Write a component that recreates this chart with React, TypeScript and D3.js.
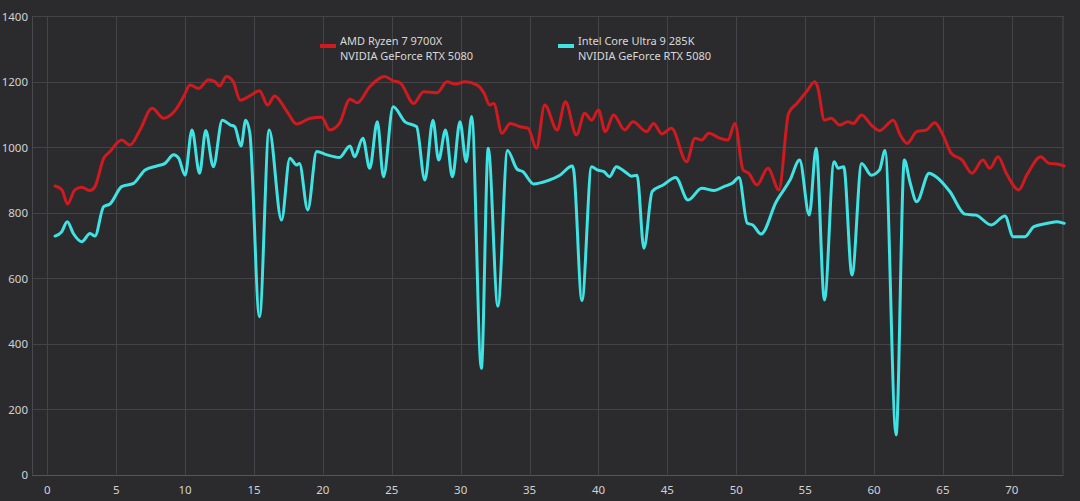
import React from 'react';
import * as d3 from 'd3';

// frame-rate samples over time (seconds)
const amdTime = [
  0.57, 1.07, 1.47, 2.0, 2.5, 3.1, 3.46, 4.09, 4.55, 5.4, 6.0, 6.73, 7.6, 8.44, 9.39, 9.9,
  10.36, 10.98, 11.7, 12.17, 12.5, 13.0, 13.5, 14.0, 14.7, 15.4, 15.99, 16.5, 17.4, 18.1, 19.1, 19.9,
  20.5, 21.2, 21.97, 22.5, 23.4, 24.5, 25.1, 25.6, 26.6, 27.3, 28.3, 29.0, 29.6, 30.3, 31.2, 31.7,
  32.1, 32.4, 33.0, 33.6, 34.3, 34.9, 35.5, 36.1, 37.0, 37.6, 38.4, 39.0, 39.5, 40.0, 40.5, 41.1,
  41.9, 42.5, 43.5, 44.0, 44.6, 45.3, 46.4, 47.0, 47.5, 48.0, 48.8, 49.4, 49.9, 50.5, 50.9, 51.5,
  52.3, 53.1, 53.8, 54.4, 55.1, 55.7, 55.9, 56.4, 56.9, 57.5, 58.1, 58.5, 59.1, 59.8, 60.4, 61.4,
  61.9, 62.4, 63.1, 63.8, 64.4, 65.0, 65.6, 66.4, 67.1, 67.9, 68.4, 69.0, 69.6, 70.5, 71.1, 72.1,
  72.7, 73.3, 73.8,
];
const amdFps = [
  881, 869, 826, 869, 877, 867, 879, 965, 986, 1021, 1006, 1052, 1118, 1088, 1118, 1154,
  1189, 1179, 1205, 1199, 1186, 1215, 1199, 1143, 1156, 1172, 1128, 1156, 1108, 1070, 1088, 1091,
  1052, 1072, 1146, 1135, 1184, 1215, 1202, 1196, 1133, 1169, 1166, 1199, 1192, 1199, 1189, 1164,
  1128, 1133, 1042, 1072, 1062, 1057, 996, 1128, 1052, 1138, 1037, 1103, 1082, 1113, 1047, 1098,
  1052, 1077, 1047, 1072, 1040, 1057, 955, 1027, 1021, 1042, 1027, 1021, 1072, 930, 920, 884,
  935, 869, 1103, 1133, 1169, 1199, 1184, 1082, 1088, 1067, 1077, 1072, 1098, 1067, 1050, 1082,
  1037, 1011, 1047, 1052, 1074, 1037, 981, 960, 920, 960, 935, 970, 920, 869, 915, 970,
  950, 948, 942,
];

const intelTime = [
  0.56, 1.04, 1.45, 1.89, 2.5, 3.1, 3.46, 4.09, 4.55, 5.4, 6.26, 7.1, 7.95, 8.54, 9.17, 9.53,
  10.0, 10.5, 11.05, 11.5, 12.05, 12.7, 13.3, 13.6, 14.06, 14.4, 14.7, 15.4, 16.1, 17.0, 17.6, 18.1,
  18.3, 18.9, 19.55, 20.3, 21.2, 21.97, 22.3, 22.9, 23.4, 23.95, 24.4, 25.1, 25.96, 26.8, 27.4, 27.99,
  28.4, 28.9, 29.4, 29.95, 30.4, 30.8, 31.5, 32.0, 32.7, 33.4, 34.1, 34.5, 35.3, 36.3, 37.2, 38.1,
  38.2, 38.8, 39.5, 39.9, 40.4, 40.8, 41.3, 41.9, 42.4, 42.8, 43.3, 43.9, 44.7, 45.6, 46.5, 47.5,
  48.4, 49.1, 49.7, 50.2, 50.8, 51.2, 51.8, 52.9, 53.9, 54.6, 55.3, 55.8, 56.4, 57.1, 57.4, 57.8,
  58.4, 59.1, 59.8, 60.4, 60.8, 61.6, 62.2, 62.6, 63.1, 64.0, 64.5, 65.5, 66.6, 67.4, 68.5, 69.5,
  70.1, 70.95, 71.6, 72.6, 73.3, 73.8,
];
const intelFps = [
  728, 741, 772, 736, 711, 736, 728, 818, 826, 879, 889, 930, 942, 950, 976, 966,
  914, 1052, 920, 1050, 940, 1082, 1067, 1062, 1003, 1082, 1042, 482, 1052, 777, 966, 945,
  950, 808, 986, 976, 968, 1003, 970, 1027, 935, 1077, 909, 1123, 1077, 1062, 899, 1082,
  960, 1052, 909, 1077, 955, 1093, 324, 996, 514, 989, 932, 925, 887, 897, 914, 942,
  930, 531, 940, 930, 925, 909, 940, 925, 911, 914, 691, 864, 884, 907, 838, 874,
  867, 879, 889, 907, 767, 762, 734, 833, 899, 960, 792, 996, 533, 955, 935, 940,
  609, 950, 914, 930, 989, 121, 960, 894, 833, 920, 909, 864, 795, 792, 762, 789,
  726, 726, 757, 767, 772, 767,
];

const xTicks = d3.range(0, 71, 5);
const yTicks = d3.range(0, 1401, 200);

const series = [
  { name: ['AMD Ryzen 7 9700X', 'NVIDIA GeForce RTX 5080'], color: '#d11a1f', time: amdTime, fps: amdFps },
  { name: ['Intel Core Ultra 9 285K', 'NVIDIA GeForce RTX 5080'], color: '#3fe3e3', time: intelTime, fps: intelFps },
];

const W = 1080;
const H = 501;
const font = '"Noto Sans", "Open Sans", sans-serif';

export default function App() {
  const x = d3.scaleLinear().domain([-1.11, 73.75]).range([32, 1063.5]);
  const y = d3.scaleLinear().domain([0, 1400]).range([474.5, 16]);

  const line = d3
    .line<[number, number]>()
    .x((d) => x(d[0]))
    .y((d) => y(d[1]))
    .curve(d3.curveMonotoneX);

  const [x0, x1] = x.range();

  return (
    <svg
      width={W}
      height={H}
      style={{ position: 'fixed', left: 0, top: 0, background: '#2b2b2e' }}
      fontFamily={font}
    >
      {/* grid */}
      {yTicks.map((t) => (
        <line key={'gy' + t} x1={x0} x2={x1} y1={Math.round(y(t)) + 0.5} y2={Math.round(y(t)) + 0.5}
          stroke={t === 0 ? '#55555a' : '#444448'} strokeWidth={1} />
      ))}
      {xTicks.map((t) => (
        <line key={'gx' + t} x1={Math.round(x(t)) + 0.5} x2={Math.round(x(t)) + 0.5} y1={y(1400)} y2={y(0)}
          stroke="#444448" strokeWidth={1} />
      ))}
      <line x1={x0 + 0.5} x2={x0 + 0.5} y1={y(1400)} y2={y(0)} stroke="#4a4a4e" />
      <line x1={x1 - 0.5} x2={x1 - 0.5} y1={y(1400)} y2={y(0)} stroke="#4a4a4e" />

      {/* tick labels */}
      {yTicks.map((t) => (
        <text key={'ly' + t} x={28} y={y(t)} textAnchor="end" dominantBaseline="central"
          fontSize={11.5} fill="#d2d2d2">{t}</text>
      ))}
      {xTicks.map((t) => (
        <text key={'lx' + t} x={x(t)} y={489} textAnchor="middle" dominantBaseline="central"
          fontSize={11.5} fill="#d2d2d2">{t}</text>
      ))}

      {/* lines */}
      {series.map((s) => (
        <path key={s.name[0]} d={line(s.time.map((t, i) => [t, s.fps[i]] as [number, number])) || ''}
          fill="none" stroke={s.color} strokeWidth={3} strokeLinejoin="round" strokeLinecap="round" />
      ))}

      {/* legend */}
      {series.map((s, i) => {
        const lx = i === 0 ? 320 : 558;
        return (
          <g key={'lg' + i} transform={`translate(${lx},0)`}>
            <rect x={0} y={44} width={16} height={4} fill={s.color} />
            <text x={20} y={40} dominantBaseline="central" fontSize={11} fill="#d8d8d8">{s.name[0]}</text>
            <text x={20} y={55} dominantBaseline="central" fontSize={11} fill="#d8d8d8">{s.name[1]}</text>
          </g>
        );
      })}
    </svg>
  );
}
